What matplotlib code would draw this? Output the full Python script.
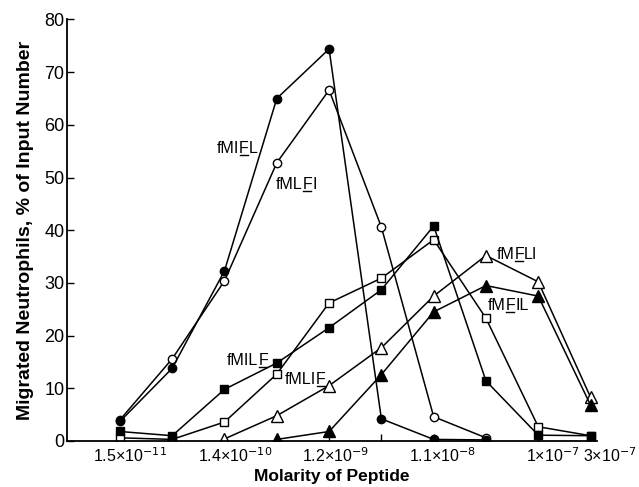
import numpy as np
import matplotlib.pyplot as plt
from matplotlib.lines import Line2D

plt.rcParams['font.family'] = ['Liberation Sans', 'DejaVu Sans']

# molarity of peptide, 3-fold dilutions
molarity = [1.5e-11, 4.5e-11, 1.35e-10, 4.05e-10, 1.215e-9, 3.645e-9,
            1.0935e-8, 3.2805e-8, 9.8415e-8, 2.95245e-7]

tick_pos = [1.5e-11, 1.35e-10, 1.215e-9, 1.0935e-8, 9.8415e-8, 2.95245e-7]
tick_labels = ['1.5×10$^{-11}$', '1.4×10$^{-10}$', '1.2×10$^{-9}$',
               '1.1×10$^{-8}$', '1×10$^{-7}$', '3×10$^{-7}$']
tick_shift = [-27, -26, -27, -25, -12, -8]

# % migrated neutrophils
fMIFL = [3.7, 13.8, 32.3, 65.0, 74.4, 4.2, 0.3, 0.2]
fMLFI = [4.0, 15.6, 30.4, 52.8, 66.6, 40.6, 4.6, 0.6]
fMILF = [1.8, 1.0, 9.8, 14.8, 21.5, 28.7, 40.8, 11.4, 1.1, 1.0]
fMLIF = [0.6, 0.3, 3.6, 12.7, 26.2, 30.9, 38.2, 23.3, 2.7, 1.0]
fMFLI = [0.4, 4.8, 10.5, 17.7, 27.5, 35.2, 30.2, 8.3]
fMFIL = [0.3, 1.8, 12.6, 24.5, 29.5, 27.5, 6.8]

fig, ax = plt.subplots(figsize=(6.39, 4.87), dpi=100)
fig.subplots_adjust(left=0.105, right=0.934, bottom=0.0945, top=0.960)

kw = dict(color='black', lw=1.1, ms=6, mew=1.0)
ax.plot(molarity[:len(fMLFI)], fMLFI, marker='o', mfc='white', **kw)
ax.plot(molarity[:len(fMIFL)], fMIFL, marker='o', mfc='black', **kw)
ax.plot(molarity[:len(fMLIF)], fMLIF, marker='s', mfc='white', **kw)
ax.plot(molarity[:len(fMILF)], fMILF, marker='s', mfc='black', **kw)
ax.plot(molarity[2:2 + len(fMFLI)], fMFLI, marker='^', mfc='white', ms=8, color='black', lw=1.1, mew=1.0)
ax.plot(molarity[3:3 + len(fMFIL)], fMFIL, marker='^', mfc='black', ms=8, color='black', lw=1.1, mew=1.0)

# curve labels: (before F, after F, position index, baseline y)
labels = [('fMI', 'L', 1.85, 54.6), ('fML', 'I', 2.98, 47.8),
          ('fMIL', '', 2.05, 14.4), ('fMLI', '', 3.15, 10.9),
          ('fM', 'LI', 7.2, 34.5), ('fM', 'IL', 7.03, 24.8)]
pieces = []
for pre, post, idx, yv in labels:
    t1 = ax.text(molarity[0] * 3 ** idx, yv, pre, fontsize=11.5, va='baseline', ha='left')
    t2 = ax.annotate('F', xy=(1, 0), xycoords=t1, va='bottom', ha='left', fontsize=11.5)
    if post:
        ax.annotate(post, xy=(1, 0), xycoords=t2, va='bottom', ha='left', fontsize=11.5)
    pieces.append(t2)

ax.set_xscale('log')
ax.set_xlim(molarity[0] * 3 ** -1.01, molarity[0] * 3 ** 9.12)
ax.set_ylim(0, 80)
ax.set_xticks(molarity)
ax.set_xticklabels([''] * len(molarity))
ax.minorticks_off()
for pos, lab, dx in zip(tick_pos, tick_labels, tick_shift):
    ax.annotate(lab, xy=(pos, 0), xycoords='data', xytext=(dx, -5),
                textcoords='offset pixels', fontsize=11.5, ha='left', va='top')
ax.set_yticks(range(0, 81, 10))
ax.tick_params(direction='in', length=5, width=1, labelsize=13, pad=2)
ax.spines['top'].set_visible(False)
ax.spines['right'].set_visible(False)
for s in ('left', 'bottom'):
    ax.spines[s].set_linewidth(1.3)

ax.set_ylabel('Migrated Neutrophils, % of Input Number', fontsize=14,
              fontweight='bold', labelpad=7)
ax.set_xlabel('Molarity of Peptide', fontsize=12.5, fontweight='bold', labelpad=18)

# underline the F in each label
fig.canvas.draw()
inv = fig.transFigure.inverted()
for t in pieces:
    bb = t.get_window_extent()
    (x0, y0), (x1, _) = inv.transform([(bb.x0 + 1, bb.y0 + 1), (bb.x1 - 1, bb.y0 + 1)])
    fig.add_artist(Line2D([x0, x1], [y0, y0], color='black', lw=1.0,
                          transform=fig.transFigure))

fig.savefig('out.png', dpi=100)
